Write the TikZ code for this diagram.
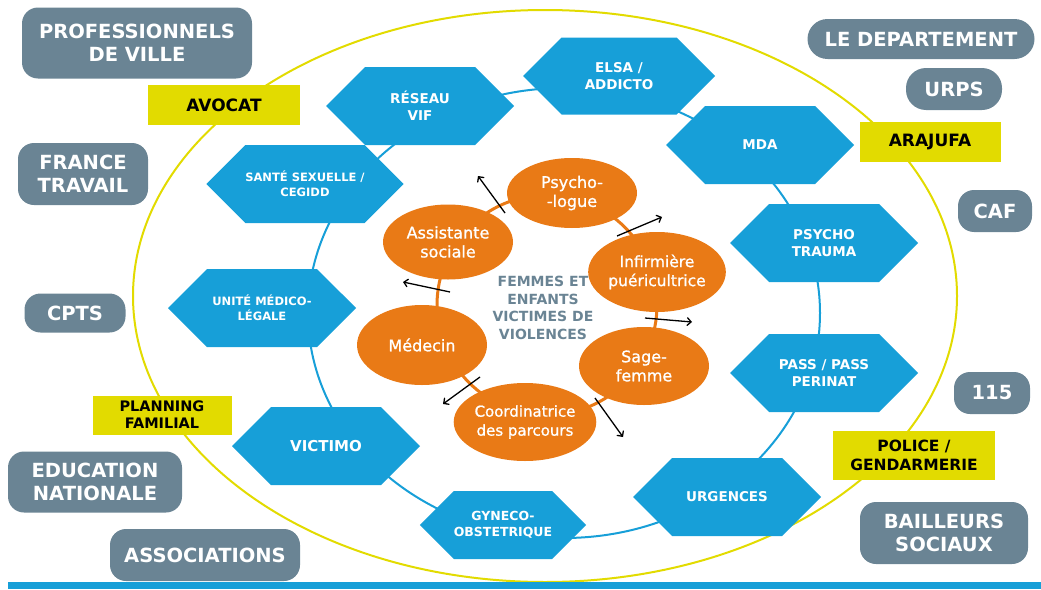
\documentclass[tikz,border=0pt]{standalone}
\usepackage{fontspec}
\setmainfont{DejaVu Sans}
\newfontfamily\mifont[FakeBold=1]{DejaVu Sans}
\usepackage{tikz}
\usetikzlibrary{arrows,shapes.geometric,shapes.symbols}
\usepackage{xcolor}
\definecolor{grisbleu}{HTML}{6A8494}
\definecolor{bleuhex}{HTML}{179FD8}
\definecolor{orangeel}{HTML}{E97A16}
\definecolor{jaune}{HTML}{E2DB00}

\begin{document}
\begin{tikzpicture} [x=1pt, y=-1pt,
  partenaire/.style={fill=grisbleu, rounded corners=16pt, text=white, align=center, inner sep=0pt,
    font=\bfseries\fontsize{19.5}{23}\selectfont},
  juridique/.style={fill=jaune, text=black, align=center, inner sep=0pt,
    font=\bfseries\fontsize{17}{20}\selectfont},
  service/.style={signal, signal to=west and east, fill=bleuhex, text=white, align=center, inner sep=0pt,
    minimum width=188pt, minimum height=78pt, font=\bfseries\fontsize{13.5}{17}\selectfont},
  soignant/.style={ellipse, fill=orangeel, text=white, align=center, inner sep=0pt,
    minimum width=130pt, minimum height=78pt, font=\mifont\fontsize{16}{19}\selectfont}
  ]
  \useasboundingbox (0,0) rectangle (1041,589);

  % anneaux
  \draw[jaune, line width=2pt] (545,296) ellipse [x radius=412, y radius=286];
  \draw[bleuhex, line width=2pt] (564,313) ellipse [x radius=256, y radius=225];
  \draw[orangeel, line width=3pt] (547,305) circle [radius=110];
  \fill[bleuhex] (8,582) rectangle (1041,589);

  % partenaires exterieurs
  \node[partenaire, minimum width=230pt, minimum height=71pt] (pv) at (137,43) {PROFESSIONNELS\\DE VILLE};
  \node[partenaire, minimum width=130pt, minimum height=62pt] (ft) at (83,174) {FRANCE\\TRAVAIL};
  \node[partenaire, minimum width=101pt, minimum height=39pt] (cpts) at (75,313) {CPTS};
  \node[partenaire, minimum width=174pt, minimum height=61pt] (en) at (95,482) {EDUCATION\\NATIONALE};
  \node[partenaire, minimum width=190pt, minimum height=52pt] (asso) at (205,555) {ASSOCIATIONS};
  \node[partenaire, minimum width=227pt, minimum height=40pt, rounded corners=20pt] (dep) at (921,39) {LE DEPARTEMENT};
  \node[partenaire, minimum width=96pt, minimum height=42pt, rounded corners=20pt] (urps) at (954,89) {URPS};
  \node[partenaire, minimum width=74pt, minimum height=42pt] (caf) at (995,211) {CAF};
  \node[partenaire, minimum width=76pt, minimum height=42pt] (num) at (992,393) {115};
  \node[partenaire, minimum width=168pt, minimum height=62pt] (bs) at (944,533) {BAILLEURS\\SOCIAUX};

  \node[juridique, minimum width=152pt, minimum height=40pt] (avocat) at (224,105) {AVOCAT};
  \node[juridique, minimum width=141pt, minimum height=40pt] (arajufa) at (930,142) {ARAJUFA};
  \node[juridique, minimum width=139pt, minimum height=39pt, font=\bfseries\fontsize{14.5}{17}\selectfont] (pf) at (162,415) {PLANNING\\FAMILIAL};
  \node[juridique, minimum width=162pt, minimum height=49pt, font=\bfseries\fontsize{15.5}{19}\selectfont] (police) at (914,455) {POLICE /\\GENDARMERIE};

  % structures
  \node[service, minimum width=192pt, minimum height=77pt] (elsa) at (619,76) {ELSA /\\ADDICTO};
  \node[service] (reseau) at (420,106) {RÉSEAU\\VIF};
  \node[service] (mda) at (760,145) {MDA};
  \node[service, font=\bfseries\fontsize{11.5}{15}\selectfont] (sante) at (305,184) {SANTÉ SEXUELLE /\\CEGIDD};
  \node[service] (trauma) at (824,243) {PSYCHO\\TRAUMA};
  \node[service, font=\bfseries\fontsize{11.5}{15}\selectfont] (uml) at (262,308) {UNITÉ MÉDICO-\\LÉGALE};
  \node[service] (pass) at (824,373) {PASS / PASS\\PERINAT};
  \node[service, font=\bfseries\fontsize{15}{18}\selectfont] (victimo) at (326,446) {VICTIMO};
  \node[service] (urg) at (727,497) {URGENCES};
  \node[service, minimum width=164pt, minimum height=68pt, font=\bfseries\fontsize{12.5}{16}\selectfont] (gyneco) at (503,525) {GYNECO-\\OBSTETRIQUE};

  % equipe
  \node[soignant, minimum height=70pt] (psy) at (572,193) {Psycho-\\-logue};
  \node[soignant, minimum height=75pt] (as) at (448,242) {Assistante\\sociale};
  \node[soignant, minimum height=80pt, font=\mifont\fontsize{15.5}{19}\selectfont] (inf) at (657,272) {Infirmière\\puéricultrice};
  \node[soignant, minimum height=80pt] (med) at (422,345) {Médecin};
  \node[soignant] (sf) at (644,366) {Sage-\\femme};
  \node[soignant, font=\mifont\fontsize{15}{19}\selectfont] (coord) at (525,422) {Coordinatrice\\des parcours};

  \node[text=grisbleu, align=center, font=\bfseries\fontsize{14}{17.5}\selectfont] (centre) at (543,308)
    {FEMMES ET\\ENFANTS\\VICTIMES DE\\VIOLENCES};

  %TODO: Pfeile
  \coordinate (a1) at (505,213); \coordinate (b1) at (478,176);
  \coordinate (a2) at (617,236); \coordinate (b2) at (662,217);
  \coordinate (a3) at (645,318); \coordinate (b3) at (692,322);
  \coordinate (a4) at (595,398); \coordinate (b4) at (623,437);
  \coordinate (a5) at (480,377); \coordinate (b5) at (443,404);
  \coordinate (a6) at (450,292); \coordinate (b6) at (403,282);
  \path[->, >=angle 90, line width=1.3pt]
  (a1) edge (b1)
  (a2) edge (b2)
  (a3) edge (b3)
  (a4) edge (b4)
  (a5) edge (b5)
  (a6) edge (b6)
  ;
\end{tikzpicture}
\end{document}
